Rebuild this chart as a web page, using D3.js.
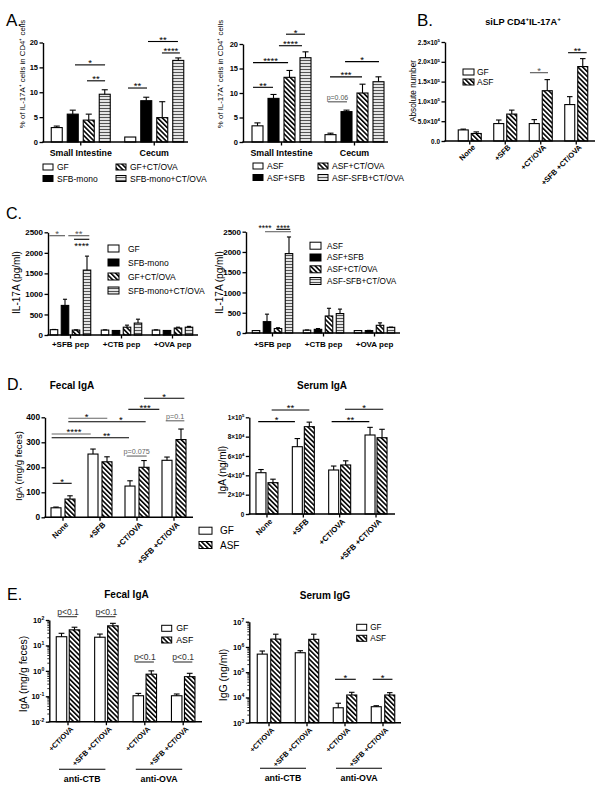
<!DOCTYPE html>
<html>
<head>
<meta charset="utf-8">
<script src="https://cdn.jsdelivr.net/npm/d3@7/dist/d3.min.js"></script>
<style>
html,body{margin:0;padding:0;background:#fff;}
svg{display:block;font-family:"Liberation Sans",Arial,Helvetica,sans-serif;}
</style>
</head>
<body>
<svg id="fig" width="602" height="789"></svg>
<script>
// ================= DATA =================
const A_groups = ["Small Intestine", "Cecum"];
const A_yTicks = [0, 5, 10, 15, 20];
const A1_series = ["GF", "SFB-mono", "GF+CT/OVA", "SFB-mono+CT/OVA"];
const A1_mean = [[2.9, 5.6, 4.4, 9.6], [1.0, 8.3, 4.9, 16.4]];
const A1_errTop = [[3.2, 6.4, 5.6, 10.5], [1.0, 9.0, 8.1, 16.9]];
const A2_series = ["ASF", "ASF+SFB", "ASF+CT/OVA", "ASF-SFB+CT/OVA"];
const A2_mean = [[3.3, 8.9, 13.2, 17.2], [1.5, 6.2, 10.0, 12.3]];
const A2_errTop = [[3.9, 9.7, 14.6, 18.4], [1.8, 6.5, 11.8, 13.3]];

const B_groups = ["None", "+SFB", "+CT/OVA", "+SFB +CT/OVA"];
const B_series = ["GF", "ASF"];
const B_mean = [[2.8e4, 1.9e4], [4.4e4, 6.8e4], [4.4e4, 1.27e5], [9.2e4, 1.88e5]];
const B_errTop = [[3.0e4, 2.3e4], [5.3e4, 7.8e4], [5.4e4, 1.55e5], [1.12e5, 2.08e5]];
const B_yTicks = [0, 5e4, 1e5, 1.5e5, 2e5, 2.5e5];
const B_yTickLabels = ["0.0", "5.0×10{4}", "1.0×10{5}", "1.5×10{5}", "2.0×10{5}", "2.5×10{5}"];

const C_groups = ["+SFB pep", "+CTB pep", "+OVA pep"];
const C_yTicks = [0, 500, 1000, 1500, 2000, 2500];
const C1_mean = [[130, 720, 120, 1580], [120, 110, 190, 290], [120, 110, 170, 190]];
const C1_errTop = [[135, 870, 125, 1920], [125, 110, 240, 385], [125, 110, 190, 210]];
const C2_mean = [[60, 280, 110, 1960], [70, 90, 420, 480], [60, 60, 190, 140]];
const C2_errTop = [[60, 465, 130, 2370], [75, 110, 610, 590], [60, 65, 250, 145]];

const D_groups = ["None", "+SFB", "+CT/OVA", "+SFB +CT/OVA"];
const D_series = ["GF", "ASF"];
const D1_yTicks = [0, 100, 200, 300, 400];
const D1_mean = [[38, 73], [253, 222], [125, 200], [228, 311]];
const D1_errTop = [[41, 86], [273, 242], [146, 227], [241, 353]];
const D2_yTicks = [0, 2e4, 4e4, 6e4, 8e4, 1e5];
const D2_yTickLabels = ["0", "2×10{4}", "4×10{4}", "6×10{4}", "8×10{4}", "1×10{5}"];
const D2_mean = [[4.27e4, 3.24e4], [6.96e4, 9.03e4], [4.55e4, 5.07e4], [8.17e4, 7.89e4]];
const D2_errTop = [[4.6e4, 3.6e4], [7.8e4, 9.5e4], [4.96e4, 5.5e4], [8.96e4, 8.76e4]];

const E_groups = ["+CT/OVA", "+SFB +CT/OVA", "+CT/OVA", "+SFB +CT/OVA"];
const E_antigens = ["anti-CTB", "anti-OVA"];
const E_series = ["GF", "ASF"];
const E1_yTicks = [1e-2, 1e-1, 1, 10, 100];
const E1_yTickLabels = ["10{-2}", "10{-1}", "10{0}", "10{1}", "10{2}"];
const E1_mean = [[22, 41], [21, 59], [0.105, 0.74], [0.105, 0.59]];
const E1_errTop = [[30, 52], [28, 74], [0.13, 1.0], [0.123, 0.8]];
const E2_yTicks = [1e3, 1e4, 1e5, 1e6, 1e7];
const E2_yTickLabels = ["10{3}", "10{4}", "10{5}", "10{6}", "10{7}"];
const E2_mean = [[5.2e5, 2.05e6], [5.9e5, 2.0e6], [3.9e3, 1.25e4], [4.3e3, 1.25e4]];
const E2_errTop = [[6.9e5, 3.2e6], [7.1e5, 3.2e6], [5.9e3, 1.6e4], [4.7e3, 1.55e4]];

// ================= DRAWING =================
const svg = d3.select("#fig");
const defs = svg.append("defs");
const hp = defs.append("pattern").attr("id", "hatch").attr("patternUnits", "userSpaceOnUse")
  .attr("width", 3.4).attr("height", 3.4).attr("patternTransform", "rotate(-45)");
hp.append("rect").attr("width", 3.4).attr("height", 3.4).attr("fill", "#fff");
hp.append("line").attr("x1", 0.8).attr("y1", 0).attr("x2", 0.8).attr("y2", 3.4).attr("stroke", "#000").attr("stroke-width", 1.6);
const sp = defs.append("pattern").attr("id", "hstripe").attr("patternUnits", "userSpaceOnUse")
  .attr("width", 4).attr("height", 3);
sp.append("rect").attr("width", 4).attr("height", 3).attr("fill", "#e4e4e4");
sp.append("line").attr("x1", 0).attr("y1", 0.5).attr("x2", 4).attr("y2", 0.5).attr("stroke", "#444").attr("stroke-width", 0.9);

const FILL = { white: "#fff", black: "#000", hatch: "url(#hatch)", hstripe: "url(#hstripe)" };
const fills4 = ["white", "black", "hatch", "hstripe"];
const fills2 = ["white", "hatch"];

function rich(t, str, fs) {
  t.text(null);
  const re = /\{([^}]*)\}/g; let last = 0, m, up = false;
  const sh = fs * 0.4;
  const add = (s, sup) => {
    if (!s) return;
    const e = t.append("tspan").text(s);
    if (sup) { e.attr("font-size", fs * 0.68).attr("dy", -sh); up = true; }
    else if (up) { e.attr("dy", sh); up = false; }
  };
  while ((m = re.exec(str))) { add(str.slice(last, m.index), false); add(m[1], true); last = re.lastIndex; }
  add(str.slice(last), false);
}

function label(x, y, str, fs, opts = {}) {
  const wrap = svg.append("g").attr("transform", `translate(${x},${y})` + (opts.rot ? ` rotate(${opts.rot})` : ""));
  const t = wrap.append("text").attr("x", 0).attr("y", 0).attr("font-size", fs)
    .attr("text-anchor", opts.anchor || "start").attr("font-weight", opts.bold ? "bold" : "normal")
    .attr("fill", opts.color || "#000");
  if (opts.plain) t.text(str); else rich(t, str, fs);
  return t;
}

function legend(items, o) {
  items.forEach(it => {
    svg.append("rect").attr("x", it.x).attr("y", it.y - o.h / 2).attr("width", o.w).attr("height", o.h)
      .attr("fill", FILL[it.fill]).attr("stroke", "#000").attr("stroke-width", 1);
    svg.append("text").attr("x", it.x + o.tx).attr("y", it.y + o.fs * 0.36).attr("font-size", o.fs).text(it.label);
  });
}

function panel(o) {
  const g = svg.append("g");
  const outer = d3.scaleBand().domain(d3.range(o.groups.length)).range(o.xRange);
  const n = o.series.length;
  const pos = (gi, s) => outer(gi) + outer.bandwidth() / 2 + (s - (n - 1) / 2) * o.stride;
  const y = o.y;
  const base = y.range()[0];
  const rows = o.mean.flatMap((arr, gi) => arr.map((v, si) => ({ gi, si, v, t: o.top[gi][si] })));

  g.selectAll("rect.bar").data(rows).join("rect").attr("class", "bar")
    .attr("x", d => pos(d.gi, d.si) - o.barW / 2).attr("width", o.barW)
    .attr("y", d => y(d.v)).attr("height", d => base - y(d.v))
    .attr("fill", d => FILL[o.fills[d.si]]).attr("stroke", "#000").attr("stroke-width", 1.1);
  const er = rows.filter(d => d.t > d.v);
  const cap = o.barW * 0.55;
  g.selectAll("line.err").data(er).join("line").attr("class", "err")
    .attr("x1", d => pos(d.gi, d.si)).attr("x2", d => pos(d.gi, d.si))
    .attr("y1", d => y(d.v)).attr("y2", d => y(d.t)).attr("stroke", "#000").attr("stroke-width", 1.1);
  g.selectAll("line.cap").data(er).join("line").attr("class", "cap")
    .attr("x1", d => pos(d.gi, d.si) - cap / 2).attr("x2", d => pos(d.gi, d.si) + cap / 2)
    .attr("y1", d => y(d.t)).attr("y2", d => y(d.t)).attr("stroke", "#000").attr("stroke-width", 1.1);

  // y axis
  const ax = d3.axisLeft(y).tickValues(o.yTicks).tickSize(3.5).tickSizeOuter(0)
    .tickFormat((d, i) => o.yLabels[i]);
  const ga = g.append("g").attr("transform", `translate(${o.yAxisX},0)`).call(ax);
  ga.attr("font-family", null).attr("font-size", null);
  ga.select(".domain").attr("stroke-width", 1.4);
  ga.selectAll(".tick line").attr("stroke-width", 1.3);
  ga.selectAll(".tick text").attr("font-weight", "bold").attr("font-size", o.tickFs).attr("fill", "#000")
    .attr("x", -5).each(function (d, i) { rich(d3.select(this), o.yLabels[i], o.tickFs); });
  if (o.log) {
    const [lo, hi] = y.domain();
    const minors = [];
    for (let e = Math.round(Math.log10(lo)); e < Math.round(Math.log10(hi)); e++)
      for (let k = 2; k <= 9; k++) minors.push(k * Math.pow(10, e));
    ga.selectAll("line.minor").data(minors).join("line").attr("class", "minor")
      .attr("x1", -2).attr("x2", 0).attr("y1", d => y(d)).attr("y2", d => y(d))
      .attr("stroke", "#000").attr("stroke-width", 0.8);
  }

  // x axis
  const xa = d3.axisBottom(outer).tickSize(3.5).tickSizeOuter(0).tickFormat(i => o.groups[i]);
  const gx = g.append("g").attr("transform", `translate(0,${base})`).call(xa);
  gx.attr("font-family", null).attr("font-size", null);
  gx.select(".domain").remove();
  gx.selectAll(".tick line").attr("stroke-width", 1.3);
  const tx = gx.selectAll(".tick text").attr("font-weight", "bold").attr("font-size", o.xFs).attr("fill", "#000");
  if (o.xRot) {
    tx.attr("text-anchor", "end").attr("x", 0).attr("y", 0).attr("dy", "0.35em")
      .attr("transform", `translate(${o.xRot[0]},${o.xRot[1]}) rotate(-45)`);
  } else {
    tx.attr("dy", 0).attr("y", o.xLabelY);
  }
  g.append("line").attr("x1", o.yAxisX - 0.7).attr("x2", o.xEnd).attr("y1", base).attr("y2", base)
    .attr("stroke", "#000").attr("stroke-width", 1.5);

  // significance annotations
  (o.sig || []).forEach(s => {
    const x1 = pos(s.g, s.s1), x2 = pos(s.g2 === undefined ? s.g : s.g2, s.s2), yy = y(s.v);
    const col = s.c || "#000";
    g.append("line").attr("x1", x1).attr("x2", x2).attr("y1", yy).attr("y2", yy)
      .attr("stroke", col).attr("stroke-width", 1.1);
    const isStar = s.t.startsWith("*");
    const fs = s.fs || (isStar ? 9.5 : 7);
    const dy = s.dy !== undefined ? s.dy : (isStar ? 1.3 : -2.2);
    g.append("text").attr("x", x1 + (x2 - x1) * (s.tf === undefined ? 0.5 : s.tf)).attr("y", yy + dy)
      .attr("text-anchor", "middle").attr("font-size", fs).attr("fill", s.tc || col).text(s.t);
  });

  // antigen group lines (panel E)
  (o.groupLines || []).forEach(gl => {
    const x1 = pos(gl.from, (n - 1) / 2) - 9, x2 = pos(gl.to, (n - 1) / 2) - 1;
    g.append("line").attr("x1", x1).attr("x2", x2).attr("y1", o.glY).attr("y2", o.glY)
      .attr("stroke", "#000").attr("stroke-width", 1.1);
    g.append("text").attr("x", (x1 + x2) / 2).attr("y", o.glY + 12.5).attr("text-anchor", "middle")
      .attr("font-weight", "bold").attr("font-size", 8.8).text(gl.label);
  });
  return pos;
}

// ---------- Panel A ----------
label(6, 26, "A.", 17, { plain: true });
const yA1 = d3.scaleLinear().domain([0, 20]).range([142, 42.5]);
panel({
  groups: A_groups, series: A1_series, mean: A1_mean, top: A1_errTop, fills: fills4,
  xRange: [44, 191], yAxisX: 43, xEnd: 188, y: yA1, yTicks: A_yTicks, yLabels: A_yTicks.map(String), tickFs: 7.5,
  barW: 11, stride: 16, xFs: 8.8, xLabelY: 13.5,
  sig: [
    { g: 0, s1: 1.14, s2: 3.02, v: 15.5, t: "*" },
    { g: 0, s1: 1.89, s2: 3.02, v: 12.3, t: "**" },
    { g: 1, s1: -0.14, s2: 1.05, v: 10.85, t: "**" },
    { g: 1, s1: 1.11, s2: 2.98, v: 20.2, t: "**" },
    { g: 1, s1: 1.98, s2: 3.1, v: 17.9, t: "****" }
  ]
});
label(25, 74, "% of IL-17A⁺ cells in CD4⁺ cells", 7.8, { anchor: "middle", rot: -90, plain: true });
legend([
  { label: "GF", fill: "white", x: 43, y: 167 }, { label: "GF+CT/OVA", fill: "hatch", x: 116, y: 167 },
  { label: "SFB-mono", fill: "black", x: 43, y: 178.5 }, { label: "SFB-mono+CT/OVA", fill: "hstripe", x: 116, y: 178.5 }
], { w: 10, h: 6, tx: 14, fs: 8.5 });

const yA2 = d3.scaleLinear().domain([0, 20]).range([142, 44]);
panel({
  groups: A_groups, series: A2_series, mean: A2_mean, top: A2_errTop, fills: fills4,
  xRange: [245, 391], yAxisX: 243, xEnd: 388, y: yA2, yTicks: A_yTicks, yLabels: A_yTicks.map(String), tickFs: 7.5,
  barW: 11, stride: 16, xFs: 8.8, xLabelY: 13.5,
  sig: [
    { g: 0, s1: -0.28, s2: 0.97, v: 11.16, t: "**" },
    { g: 0, s1: -0.28, s2: 1.91, v: 16.2, t: "****" },
    { g: 0, s1: 1.34, s2: 2.78, v: 19.65, t: "****" },
    { g: 0, s1: 1.78, s2: 2.97, v: 22, t: "*" },
    { g: 1, s1: -0.16, s2: 1.03, v: 8.2, t: "p=0.06", c: "#555" },
    { g: 1, s1: -0.03, s2: 1.97, v: 13.3, t: "***" },
    { g: 1, s1: 0.91, s2: 3.03, v: 16.4, t: "*" }
  ]
});
label(223, 74, "% of IL-17A⁺ cells in CD4⁺ cells", 7.8, { anchor: "middle", rot: -90, plain: true });
legend([
  { label: "ASF", fill: "white", x: 253, y: 166 }, { label: "ASF+CT/OVA", fill: "hatch", x: 318, y: 166 },
  { label: "ASF+SFB", fill: "black", x: 253, y: 177.5 }, { label: "ASF-SFB+CT/OVA", fill: "hstripe", x: 318, y: 177.5 }
], { w: 10, h: 6, tx: 14, fs: 8.5 });

// ---------- Panel B ----------
label(417, 26, "B.", 17, { plain: true });
label(523, 24.5, "siLP CD4{+}IL-17A{+}", 9.2, { anchor: "middle", bold: true });
const yB = d3.scaleLinear().domain([0, 2.5e5]).range([141, 42]);
panel({
  groups: B_groups, series: B_series, mean: B_mean, top: B_errTop, fills: fills2,
  xRange: [452, 594], yAxisX: 445, xEnd: 595, y: yB, yTicks: B_yTicks, yLabels: B_yTickLabels, tickFs: 6.4,
  barW: 10, stride: 13, xFs: 7.5, xRot: [4, 5],
  sig: [
    { g: 2, s1: -0.33, s2: 1.06, v: 1.725e5, t: "*", c: "#555" },
    { g: 3, s1: -0.13, s2: 1.3, v: 2.23e5, t: "**" }
  ]
});
label(416, 91, "Absolute number", 8.2, { anchor: "middle", rot: -90, plain: true });
legend([
  { label: "GF", fill: "white", x: 463, y: 72 }, { label: "ASF", fill: "hatch", x: 463, y: 82 }
], { w: 11, h: 6, tx: 14, fs: 8.5 });

// ---------- Panel C ----------
label(6, 219, "C.", 16, { plain: true });
const yC1 = d3.scaleLinear().domain([0, 2500]).range([335, 232.3]);
panel({
  groups: C_groups, series: A1_series, mean: C1_mean, top: C1_errTop, fills: fills4,
  xRange: [45, 198], yAxisX: 48, xEnd: 198, y: yC1, yTicks: C_yTicks, yLabels: C_yTicks.map(String), tickFs: 8,
  barW: 7.5, stride: 11, xFs: 8, xLabelY: 11.5,
  sig: [
    { g: 0, s1: -0.43, s2: 1.0, v: 2417, t: "*", c: "#555" },
    { g: 0, s1: 1.3, s2: 3.21, v: 2417, t: "**", c: "#555" },
    { g: 0, s1: 1.82, s2: 3.21, v: 2330, t: "****", dy: 9.5 }
  ]
});
label(20, 282.5, "IL-17A (pg/ml)", 10, { anchor: "middle", rot: -90, plain: true });
legend([
  { label: "GF", fill: "white", x: 108, y: 248.5 }, { label: "SFB-mono", fill: "black", x: 108, y: 262.5 },
  { label: "GF+CT/OVA", fill: "hatch", x: 108, y: 276.5 }, { label: "SFB-mono+CT/OVA", fill: "hstripe", x: 108, y: 290.5 }
], { w: 11, h: 7, tx: 20, fs: 8.5 });

const yC2 = d3.scaleLinear().domain([0, 2500]).range([333, 231.7]);
panel({
  groups: C_groups, series: A2_series, mean: C2_mean, top: C2_errTop, fills: fills4,
  xRange: [247, 400], yAxisX: 246, xEnd: 400, y: yC2, yTicks: C_yTicks, yLabels: C_yTicks.map(String), tickFs: 8,
  barW: 7.5, stride: 11, xFs: 8, xLabelY: 13.5,
  sig: [
    { g: 0, s1: 0.82, s2: 3.18, v: 2500, t: "****", tf: 0.0, dy: -0.6, c: "#666", tc: "#000", fs: 8.5 },
    { g: 0, s1: 1.84, s2: 3.11, v: 2559, t: "****", dy: 1.9, fs: 8.5 }
  ]
});
label(223, 282.5, "IL-17A (pg/ml)", 10, { anchor: "middle", rot: -90, plain: true });
legend([
  { label: "ASF", fill: "white", x: 310, y: 245.7 }, { label: "ASF+SFB", fill: "black", x: 310, y: 257.5 },
  { label: "ASF+CT/OVA", fill: "hatch", x: 310, y: 269.3 }, { label: "ASF-SFB+CT/OVA", fill: "hstripe", x: 310, y: 281 }
], { w: 11, h: 7, tx: 17, fs: 8.2 });

// ---------- Panel D ----------
label(7, 390, "D.", 16, { plain: true });
label(72, 388.5, "Fecal IgA", 10, { anchor: "middle", bold: true, plain: true });
label(322, 388.5, "Serum IgA", 10, { anchor: "middle", bold: true, plain: true });
const yD1 = d3.scaleLinear().domain([0, 400]).range([517.3, 417.3]);
panel({
  groups: D_groups, series: D_series, mean: D1_mean, top: D1_errTop, fills: fills2,
  xRange: [44.5, 192.5], yAxisX: 45, xEnd: 193, y: yD1, yTicks: D1_yTicks, yLabels: D1_yTicks.map(String), tickFs: 8.3,
  barW: 10, stride: 14, xFs: 7.8, xRot: [4, 6],
  sig: [
    { g: 0, s1: -0.24, s2: 1.12, v: 136, t: "*" },
    { g: 0, s1: -0.31, g2: 1, s2: -0.16, v: 333, t: "****", tf: 0.57, c: "#666", tc: "#000" },
    { g: 0, s1: -0.31, g2: 2, s2: -0.07, v: 318, t: "**", tf: 0.71 },
    { g: 0, s1: 0.88, g2: 1, s2: 1.02, v: 396, t: "*", tf: 0.47, c: "#666", tc: "#000" },
    { g: 0, s1: 0.88, g2: 2, s2: 1.12, v: 382, t: "*", tf: 0.68 },
    { g: 2, s1: -0.12, g2: 3, s2: -0.55, v: 432, t: "***", tf: 0.54 },
    { g: 2, s1: 1.0, g2: 3, s2: 1.24, v: 476, t: "*" },
    { g: 3, s1: -0.09, s2: 1.24, v: 386, t: "p=0.1", c: "#666", fs: 7.2 },
    { g: 2, s1: -0.24, s2: 1.19, v: 245, t: "p=0.075", c: "#666", fs: 7.2 }
  ]
});
label(22, 466, "IgA (mg/g feces)", 9.6, { anchor: "middle", rot: -90, plain: true });
legend([
  { label: "GF", fill: "white", x: 199, y: 530.7 }, { label: "ASF", fill: "hatch", x: 199, y: 545 }
], { w: 13, h: 7, tx: 21, fs: 10 });

const yD2 = d3.scaleLinear().domain([0, 1e5]).range([514, 417.3]);
panel({
  groups: D_groups, series: D_series, mean: D2_mean, top: D2_errTop, fills: fills2,
  xRange: [248.8, 394.2], yAxisX: 249.3, xEnd: 395, y: yD2, yTicks: D2_yTicks, yLabels: D2_yTickLabels, tickFs: 6.3,
  barW: 10, stride: 12, xFs: 7.8, xRot: [4, 6],
  sig: [
    { g: 0, s1: -0.23, g2: 1, s2: -0.2, v: 9.55e4, t: "*" },
    { g: 0, s1: 0.89, g2: 1, s2: 1.0, v: 1.075e5, t: "**" },
    { g: 2, s1: -0.17, g2: 3, s2: -0.06, v: 9.55e4, t: "**" },
    { g: 2, s1: 0.94, g2: 3, s2: 1.1, v: 1.083e5, t: "*" }
  ]
});
label(226, 470, "IgA (ng/ml)", 10, { anchor: "middle", rot: -90, plain: true });

// ---------- Panel E ----------
label(7, 600, "E.", 16, { plain: true });
label(126.5, 598, "Fecal IgA", 10, { anchor: "middle", bold: true, plain: true });
label(325, 598.5, "Serum IgG", 10, { anchor: "middle", bold: true, plain: true });
const yE1 = d3.scaleLog().domain([1e-2, 1e2]).range([721.7, 620]);
panel({
  groups: E_groups, series: E_series, mean: E1_mean, top: E1_errTop, fills: fills2, log: true,
  xRange: [48.8, 202.4], yAxisX: 49.3, xEnd: 202, y: yE1, yTicks: E1_yTicks, yLabels: E1_yTickLabels, tickFs: 7.5,
  barW: 10.5, stride: 13, xFs: 7.3, xRot: [4, 6],
  sig: [
    { g: 0, s1: -0.2, s2: 1.2, v: 135, t: "p<0.1", c: "#333", fs: 8.6, dy: -2 },
    { g: 1, s1: -0.2, s2: 1.2, v: 135, t: "p<0.1", c: "#333", fs: 8.6, dy: -2 },
    { g: 2, s1: -0.2, s2: 1.2, v: 2.23, t: "p<0.1", c: "#333", fs: 8.6, dy: -2 },
    { g: 3, s1: -0.2, s2: 1.2, v: 2.23, t: "p<0.1", c: "#333", fs: 8.6, dy: -2 }
  ],
  groupLines: [{ from: 0, to: 1, label: E_antigens[0] }, { from: 2, to: 3, label: E_antigens[1] }], glY: 769.3
});
label(27, 674, "IgA (mg/g feces)", 10.5, { anchor: "middle", rot: -90, plain: true });
legend([
  { label: "GF", fill: "white", x: 161.7, y: 628.3 }, { label: "ASF", fill: "hatch", x: 161.7, y: 640 }
], { w: 10, h: 6, tx: 14.5, fs: 8.8 });

const yE2 = d3.scaleLog().domain([1e3, 1e7]).range([722.7, 621.7]);
panel({
  groups: E_groups, series: E_series, mean: E2_mean, top: E2_errTop, fills: fills2, log: true,
  xRange: [250, 402], yAxisX: 249.3, xEnd: 401, y: yE2, yTicks: E2_yTicks, yLabels: E2_yTickLabels, tickFs: 7.5,
  barW: 10, stride: 13.5, xFs: 7.3, xRot: [4, 6],
  sig: [
    { g: 2, s1: -0.24, s2: 1.3, v: 5.24e4, t: "*" },
    { g: 3, s1: -0.26, s2: 1.2, v: 5.24e4, t: "*" }
  ],
  groupLines: [{ from: 0, to: 1, label: E_antigens[0] }, { from: 2, to: 3, label: E_antigens[1] }], glY: 768.3
});
label(227, 675, "IgG (ng/ml)", 10.5, { anchor: "middle", rot: -90, plain: true });
legend([
  { label: "GF", fill: "white", x: 356.7, y: 627.3 }, { label: "ASF", fill: "hatch", x: 356.7, y: 638.3 }
], { w: 10, h: 6, tx: 13.5, fs: 8.2 });
</script>
</body>
</html>
